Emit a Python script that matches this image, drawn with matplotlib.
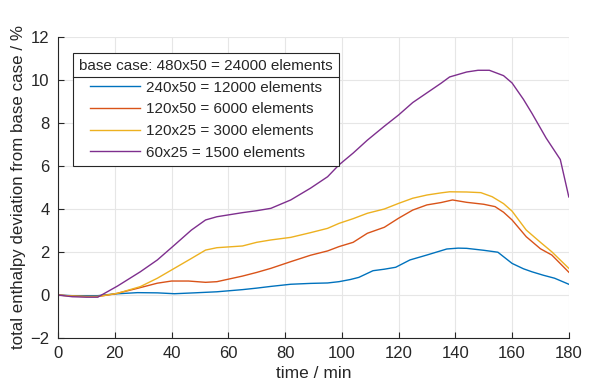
import matplotlib
matplotlib.use("Agg")
import matplotlib.pyplot as plt
from matplotlib.lines import Line2D

plt.rcParams['font.family'] = ['Liberation Sans', 'DejaVu Sans']

t_blue = [0, 5, 10, 14, 20, 28, 35, 41, 48, 56, 65, 70, 75, 82, 89, 95, 99, 103, 106, 111, 115, 119, 124, 130, 137, 141, 144, 150, 155, 160, 164, 167, 171, 175, 180]
v_blue = [0, -0.03, -0.03, -0.03, 0.05, 0.11, 0.10, 0.06, 0.10, 0.15, 0.25, 0.32, 0.40, 0.50, 0.54, 0.56, 0.62, 0.72, 0.82, 1.13, 1.20, 1.29, 1.63, 1.86, 2.14, 2.18, 2.17, 2.08, 1.99, 1.47, 1.22, 1.08, 0.92, 0.78, 0.50]

t_red = [0, 5, 10, 14, 20, 28, 35, 40, 46, 52, 56, 65, 70, 75, 82, 89, 95, 99, 104, 109, 115, 120, 125, 130, 135, 139, 144, 150, 154, 157, 160, 165, 170, 174, 180]
v_red = [0, -0.05, -0.07, -0.07, 0.05, 0.31, 0.55, 0.65, 0.65, 0.59, 0.62, 0.88, 1.05, 1.24, 1.55, 1.85, 2.05, 2.25, 2.45, 2.87, 3.15, 3.57, 3.95, 4.19, 4.30, 4.42, 4.31, 4.22, 4.11, 3.85, 3.49, 2.71, 2.15, 1.86, 1.06]

t_yel = [0, 5, 10, 14, 21, 29, 35, 41, 47, 52, 56, 65, 70, 75, 82, 89, 95, 99, 104, 109, 115, 120, 125, 130, 135, 138, 144, 149, 153, 157, 160, 165, 170, 174, 180]
v_yel = [0, -0.05, -0.07, -0.07, 0.08, 0.39, 0.78, 1.24, 1.70, 2.09, 2.20, 2.28, 2.45, 2.56, 2.68, 2.90, 3.10, 3.33, 3.55, 3.80, 4.00, 4.26, 4.50, 4.65, 4.75, 4.80, 4.79, 4.76, 4.57, 4.25, 3.90, 3.02, 2.45, 2.01, 1.24]

t_pur = [0, 5, 10, 14, 21, 29, 35, 41, 47, 52, 56, 65, 70, 75, 82, 89, 95, 99, 104, 109, 115, 120, 125, 130, 135, 138, 144, 148, 152, 157, 160, 164, 167, 172, 177, 180]
v_pur = [0, -0.08, -0.1, -0.1, 0.42, 1.08, 1.63, 2.32, 3.02, 3.49, 3.64, 3.83, 3.92, 4.03, 4.42, 4.97, 5.50, 6.05, 6.60, 7.20, 7.85, 8.37, 8.95, 9.40, 9.85, 10.14, 10.37, 10.45, 10.45, 10.2, 9.86, 9.10, 8.45, 7.30, 6.30, 4.56]

labels = ['240x50 = 12000 elements', '120x50 = 6000 elements',
          '120x25 = 3000 elements', '60x25 = 1500 elements']
colors = ['#0072BD', '#D95319', '#EDB120', '#7E2F8E']
legend_title = 'base case: 480x50 = 24000 elements'

fig = plt.figure(figsize=(5.95, 3.91), dpi=100)
ax = fig.add_axes([0.0975, 0.1355, 0.8585, 0.77])

series = [(t_blue, v_blue), (t_red, v_red), (t_yel, v_yel), (t_pur, v_pur)]
for (t, v), c, lab in zip(series, colors, labels):
    ax.plot(t, v, color=c, lw=1.0, label=lab)

axc = '#262626'
ax.set_xlim(0, 180)
ax.set_ylim(-2, 12)
ax.set_xticks(range(0, 181, 20))
ax.set_yticks(range(-2, 13, 2))
ax.grid(True, color='#e6e6e6', lw=0.8)
ax.set_axisbelow(True)
for s in ['top', 'right']:
    ax.spines[s].set_visible(False)
for s in ['left', 'bottom']:
    ax.spines[s].set_color(axc)
    ax.spines[s].set_linewidth(0.8)
ax.tick_params(direction='in', length=4, width=0.8, colors=axc, labelsize=12, pad=6)
ax.set_xlabel('time / min', fontsize=12.5, color=axc, labelpad=3)
ax.set_ylabel('total enthalpy deviation from base case / %', fontsize=12.2, color=axc, labelpad=3)

leg = ax.legend(title=legend_title, loc='upper left', bbox_to_anchor=(0.029, 0.947),
                fontsize=11, title_fontsize=11, fancybox=False, framealpha=1,
                edgecolor=axc, handlelength=3.3, handletextpad=0.35, borderpad=0.4,
                labelspacing=0.5, borderaxespad=0)
leg.get_frame().set_linewidth(0.8)
for txt in leg.get_texts():
    txt.set_color(axc)
leg.get_title().set_color(axc)

fig.canvas.draw()
fb = leg.get_frame().get_window_extent()
tb = leg.get_title().get_window_extent()
first = leg.get_texts()[0].get_window_extent()
ysep = (tb.y0 + first.y1) / 2
inv = fig.transFigure.inverted()
(x0, y0) = inv.transform((fb.x0, ysep))
(x1, _) = inv.transform((fb.x1, ysep))
fig.add_artist(Line2D([x0, x1], [y0, y0], transform=fig.transFigure, color=axc, lw=0.8, zorder=10))

fig.savefig('out.png', dpi=100)
